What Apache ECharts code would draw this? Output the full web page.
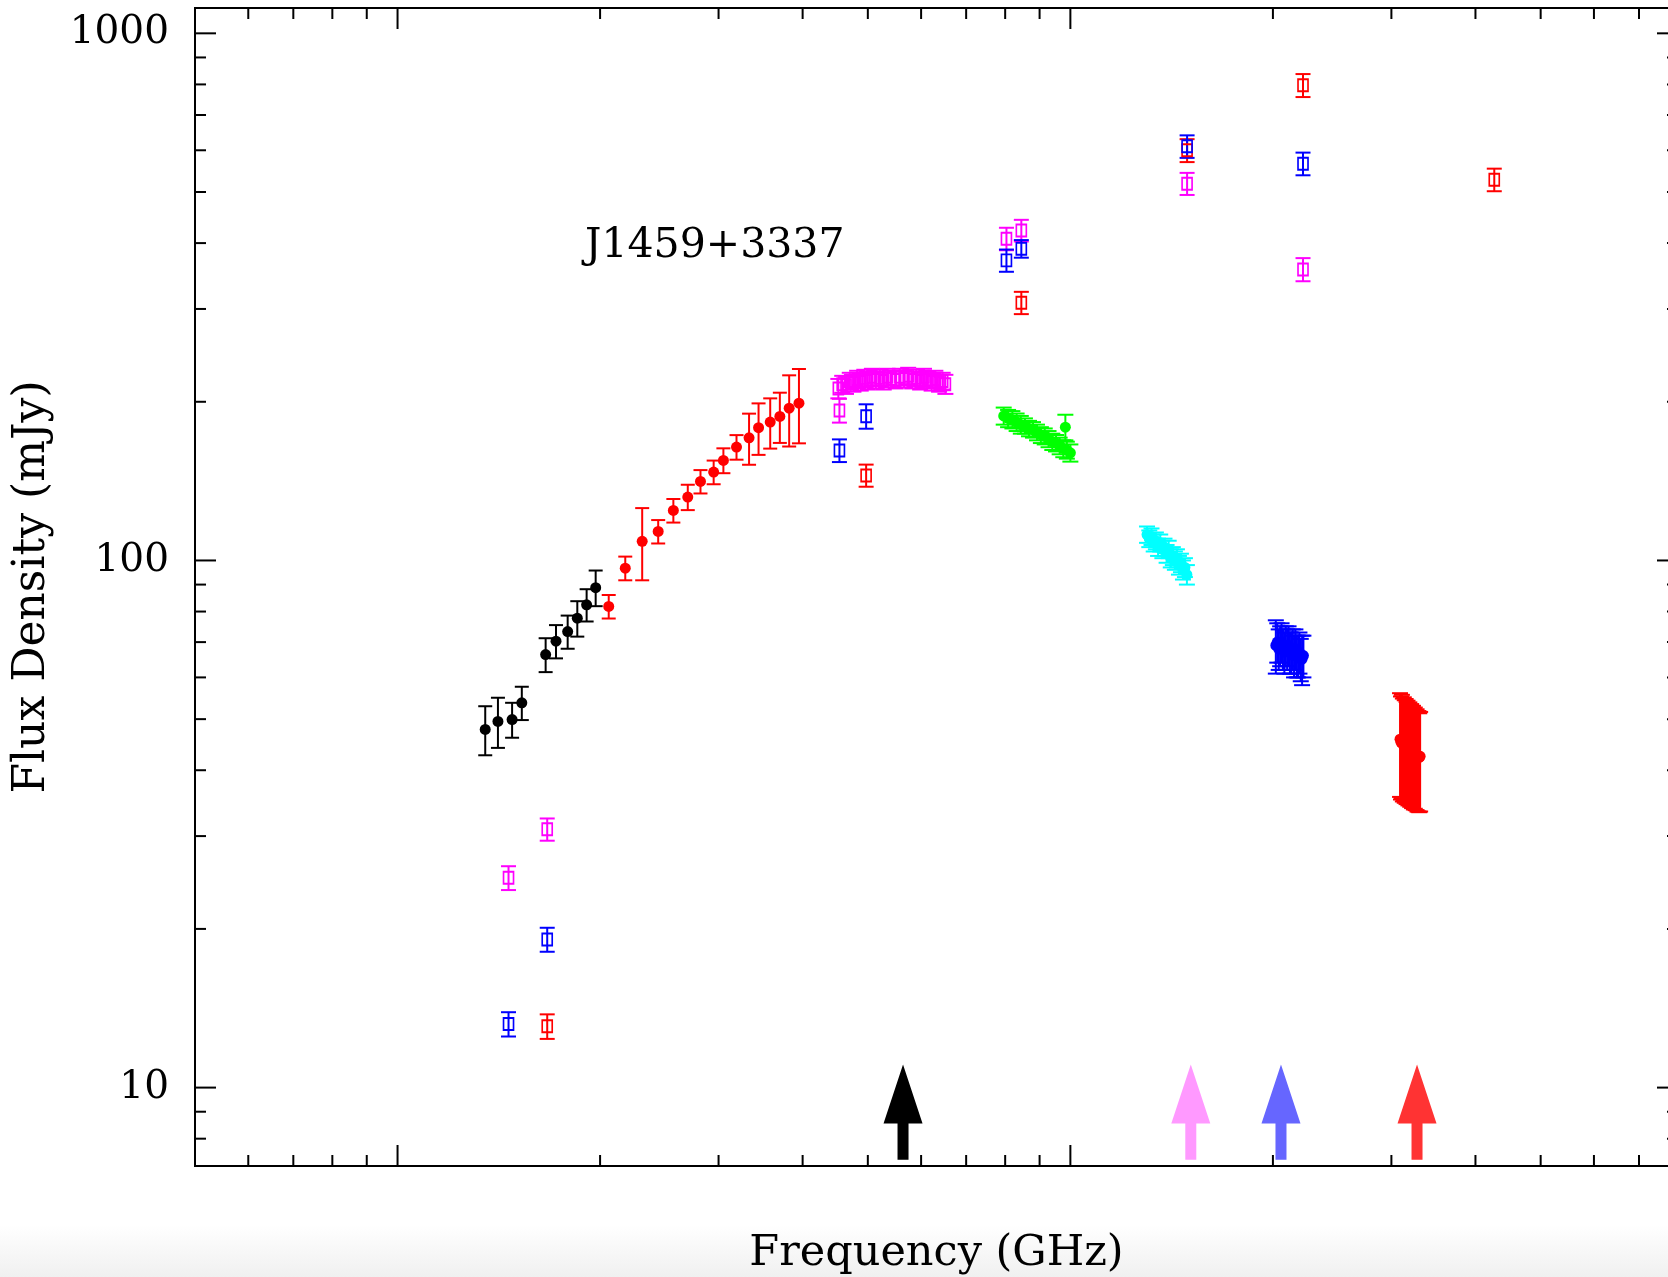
<!DOCTYPE html>
<html><head><meta charset="utf-8">
<script src="https://cdn.jsdelivr.net/npm/echarts@6/dist/echarts.min.js"></script>
<style>html,body{margin:0;padding:0;background:#fff}#c{width:1668px;height:1277px}</style>
</head><body><div id="c"></div>
<script>
// ---------------- data (frequency in GHz, flux density in mJy) ----------------
const blackFreq = [1.35, 1.41, 1.48, 1.53, 1.66, 1.72, 1.79, 1.85, 1.91, 1.97];
const blackFlux = [47.8, 49.5, 49.9, 53.7, 66.3, 70.3, 73.3, 77.7, 82.4, 88.8];
const blackErr  = [5.1, 5.4, 3.8, 3.9, 4.9, 5.1, 5.3, 6.0, 5.8, 6.9];

const redFreq = [2.06, 2.18, 2.31, 2.44, 2.57, 2.70, 2.82, 2.95, 3.05, 3.19, 3.33, 3.44, 3.58, 3.70, 3.82, 3.95];
const redFlux = [81.8, 96.7, 108.7, 113.5, 124.4, 131.9, 141.2, 147.1, 154.8, 164.1, 170.9, 178.6, 183.0, 187.6, 194.5, 198.8];
const redErr  = [4.2, 5.0, 17, 5.8, 6.4, 7.3, 7.2, 7.6, 8.4, 8.8, 19, 20, 20, 20.5, 30, 32];

const cBandFreq = [4.52, 4.58, 4.64, 4.70, 4.76, 4.82, 4.88, 4.94, 5.00, 5.07, 5.14, 5.21, 5.28, 5.35, 5.42, 5.50, 5.58, 5.66, 5.74, 5.82, 5.90, 5.98, 6.06, 6.14, 6.22, 6.30, 6.38, 6.46, 6.52];
const cBandFlux = [212, 216, 215, 219, 217, 221, 218, 222, 219, 223, 220, 222, 219, 223, 221, 220, 223, 221, 224, 220, 222, 219, 223, 220, 218, 221, 217, 219, 216];
const cBandErr  = [9, 8, 8, 8, 8, 8, 8, 8, 8, 8, 8, 8, 8, 8, 8, 8, 8, 8, 8, 8, 8, 8, 8, 8, 8, 8, 8, 8, 9];

const xBandFreq = [7.96, 8.08, 8.20, 8.32, 8.44, 8.56, 8.68, 8.80, 8.92, 9.04, 9.16, 9.28, 9.40, 9.52, 9.64, 9.76, 9.83, 9.88, 10.0];
const xBandFlux = [188, 186, 185, 183, 181, 180, 178, 177, 175, 173, 172, 170, 168, 167, 165, 163, 179, 162, 160];
const xBandErr  = [7, 7, 7, 7, 7, 6, 6, 6, 6, 6, 6, 6, 6, 6, 6, 6, 10, 6, 6];

const kuFreq = [13.0, 13.1, 13.2, 13.3, 13.4, 13.5, 13.6, 13.7, 13.8, 13.9, 14.0, 14.1, 14.2, 14.3, 14.4, 14.5, 14.6, 14.7, 14.8, 14.9];
const kuFlux = [112, 110, 111, 108, 109, 106, 108, 105, 106, 103, 105, 101, 102, 100, 101, 98, 99, 96, 97, 94];
const kuErr  = [4, 4, 4, 4, 4, 4, 4, 4, 4, 4, 4, 4, 4, 4, 4, 4, 4, 4, 4, 4];

const kFreq = [20.2, 20.3, 20.4, 20.5, 20.6, 20.7, 20.8, 20.9, 21.0, 21.1, 21.2, 21.3, 21.4, 21.5, 21.6, 21.7, 21.8, 21.9, 22.0, 22.1, 22.2];
const kFlux = [69, 70, 68, 69, 70, 68, 67, 69, 68, 69, 67, 67, 68, 66, 68, 66, 66, 67, 65, 65, 66];
const kErr  = [8, 6, 6, 6, 6, 6, 6, 6, 6, 6, 6, 6, 6, 6, 6, 6, 6, 6, 6, 7, 6];

const kaFreq = [30.9, 31.0, 31.1, 31.2, 31.3, 31.4, 31.5, 31.6, 31.7, 31.8, 31.9, 32.0, 32.1, 32.2, 32.3, 32.4, 32.5, 32.6, 32.7, 32.8, 32.9, 33.0, 33.1];
const kaFlux = [45.8, 45.2, 45.5, 44.8, 45.0, 44.5, 44.7, 44.2, 44.4, 43.9, 44.1, 43.6, 43.8, 43.3, 43.5, 43.0, 43.2, 42.8, 42.9, 42.5, 42.6, 42.3, 42.5];
const kaErr  = [10.2, 10.0, 10.1, 9.9, 10.0, 9.8, 9.9, 9.7, 9.8, 9.6, 9.7, 9.5, 9.6, 9.4, 9.5, 9.3, 9.4, 9.2, 9.3, 9.1, 9.2, 9.0, 9.1];

// open squares (other epochs / surveys)
const magSqFreq = [1.462, 1.669, 4.537, 8.035, 8.455, 14.91, 22.17];
const magSqFlux = [25.0, 30.9, 192.6, 407.7, 422.8, 518.6, 356.6];
const magSqErr  = [1.3, 1.5, 10, 20, 20, 25, 18];

const blueSqFreq = [1.462, 1.669, 4.537, 4.971, 8.035, 8.455, 14.91, 22.17];
const blueSqFlux = [13.2, 19.1, 161.7, 187.8, 370.9, 390.3, 610.4, 565.9];
const blueSqErr  = [0.7, 1.0, 8, 10, 18, 15, 30, 28];

const redSqFreq = [1.669, 4.971, 8.455, 14.91, 22.17, 42.66];
const redSqFlux = [13.07, 145.0, 308.3, 599.8, 797, 527.7];
const redSqErr  = [0.7, 7, 15, 30, 40, 26];

// arrows marking frequencies
const arrowFreq   = [5.64, 15.1, 20.56, 32.75];
const arrowColors = ['#000000', '#ff99ff', '#6666ff', '#ff3333'];
const arrowTip = 11.06;     // flux level of arrow tip
const arrowBottom = 7.3;    // flux level of arrow tail

// axis ticks
const xMajorTicks = [1, 10];
const xMinorTicks = [0.6, 0.7, 0.8, 0.9, 2, 3, 4, 5, 6, 7, 8, 9, 20, 30, 40, 50, 60, 70];
const yMajorTicks = [10, 100, 1000];
const yMinorTicks = [8, 9, 20, 30, 40, 50, 60, 70, 80, 90, 200, 300, 400, 500, 600, 700, 800, 900];
const yTickLabels = ['10', '100', '1000'];

const sourceName = 'J1459+3337';

// ---------------- chart ----------------
const SERIF = '"DejaVu Serif", "Liberation Serif", serif';
const chart = echarts.init(document.getElementById('c'), null, {renderer: 'canvas'});

function errSeries(freq, flux, err, color, capW) {
  return {
    type: 'custom', coordinateSystem: 'cartesian2d', silent: true, animation: false, z: 2,
    data: freq.map((f, i) => [f, flux[i], err[i]]),
    encode: {x: 0, y: 1},
    renderItem: (params, api) => {
      const f = api.value(0), v = api.value(1), e = api.value(2);
      const t = api.coord([f, v + e]), b = api.coord([f, v - e]);
      const h = capW / 2;
      const st = {stroke: color, lineWidth: 2};
      return {type: 'group', children: [
        {type: 'line', shape: {x1: t[0], y1: t[1], x2: b[0], y2: b[1]}, style: st},
        {type: 'line', shape: {x1: t[0] - h, y1: t[1], x2: t[0] + h, y2: t[1]}, style: st},
        {type: 'line', shape: {x1: b[0] - h, y1: b[1], x2: b[0] + h, y2: b[1]}, style: st}
      ]};
    }
  };
}
function markSeries(freq, flux, color, filled) {
  return {
    type: 'scatter', silent: true, animation: false, z: 3,
    data: freq.map((f, i) => [f, flux[i]]),
    symbol: filled ? 'circle' : 'rect',
    symbolSize: filled ? 11 : [10, 12],
    itemStyle: filled ? {color: color, opacity: 1}
                      : {color: 'rgba(0,0,0,0)', borderColor: color, borderWidth: 1.8, opacity: 1}
  };
}
function group(freq, flux, err, color, filled, capW) {
  return [errSeries(freq, flux, err, color, capW), markSeries(freq, flux, color, filled)];
}

const tickData = [];
xMajorTicks.forEach(v => tickData.push([v, 100, 1, 0]));
xMinorTicks.forEach(v => tickData.push([v, 100, 0, 0]));
yMajorTicks.forEach(v => tickData.push([1, v, 1, 1]));
yMinorTicks.forEach(v => tickData.push([1, v, 0, 1]));

const tickSeries = {
  type: 'custom', coordinateSystem: 'cartesian2d', silent: true, animation: false, z: 5,
  data: tickData, encode: {x: 0, y: 1}, clip: false,
  renderItem: (params, api) => {
    const cs = params.coordSys;
    const major = api.value(2) === 1, isY = api.value(3) === 1;
    const len = major ? 21 : 11;
    const st = {stroke: '#000', lineWidth: 2};
    if (!isY) {
      const px = api.coord([api.value(0), 100])[0];
      const yb = cs.y + cs.height, yt = cs.y;
      return {type: 'group', children: [
        {type: 'line', shape: {x1: px, y1: yb, x2: px, y2: yb - len}, style: st},
        {type: 'line', shape: {x1: px, y1: yt, x2: px, y2: yt + len}, style: st}
      ]};
    } else {
      const py = api.coord([1, api.value(1)])[1];
      const xl = cs.x, xr = cs.x + cs.width;
      return {type: 'group', children: [
        {type: 'line', shape: {x1: xl, y1: py, x2: xl + len, y2: py}, style: st},
        {type: 'line', shape: {x1: xr, y1: py, x2: xr - len, y2: py}, style: st}
      ]};
    }
  }
};

const arrowSeries = {
  type: 'custom', coordinateSystem: 'cartesian2d', silent: true, animation: false, z: 6,
  data: arrowFreq.map((f, i) => [f, arrowTip, arrowBottom, i]), encode: {x: 0, y: 1},
  renderItem: (params, api) => {
    const f = api.value(0);
    const t = api.coord([f, api.value(1)]), b = api.coord([f, api.value(2)]);
    const x = t[0], hw = 19.5, sw = 5.5, hl = 59;
    const yb = t[1] + hl;
    return {type: 'polygon', shape: {points: [
      [x, t[1]], [x + hw, yb], [x + sw, yb], [x + sw, b[1]], [x - sw, b[1]], [x - sw, yb], [x - hw, yb]
    ]}, style: {fill: arrowColors[api.value(3)]}};
  }
};

const option = {
  backgroundColor: '#ffffff',
  animation: false,
  grid: {left: 195, top: 8, width: 1483, height: 1158, show: true, borderColor: '#000', borderWidth: 2,
         backgroundColor: 'transparent', containLabel: false, outerBoundsMode: 'none'},
  xAxis: {
    type: 'log', logBase: 10, min: 0.5, max: 80,
    name: 'Frequency (GHz)', nameLocation: 'middle', nameGap: 66,
    nameTextStyle: {fontFamily: SERIF, fontSize: 43, color: '#000'},
    axisLine: {show: false}, axisTick: {show: false}, axisLabel: {show: false}, splitLine: {show: false}
  },
  yAxis: {
    type: 'log', logBase: 10, min: 7.1, max: 1117,
    name: 'Flux Density (mJy)', nameLocation: 'middle', nameGap: 140, nameRotate: 90,
    nameTextStyle: {fontFamily: SERIF, fontSize: 44, color: '#000'},
    axisLine: {show: false}, axisTick: {show: false}, splitLine: {show: false},
    axisLabel: {
      show: true, margin: 26, fontFamily: SERIF, fontSize: 39, color: '#000',
      showMinLabel: false, showMaxLabel: false,
      formatter: (v) => {
        const r = Math.round(v);
        return (Math.abs(v - r) < 1e-6 && yTickLabels.indexOf(String(r)) >= 0) ? String(r) : '';
      }
    }
  },
  graphic: [
    {type: 'rect', left: 0, top: 1225, shape: {width: 1668, height: 52}, z: -10, silent: true,
     style: {fill: new echarts.graphic.LinearGradient(0, 0, 0, 1, [
       {offset: 0, color: 'rgba(240,240,240,0)'}, {offset: 1, color: 'rgba(240,240,240,1)'}])}},
    {type: 'text', left: 585, top: 226, z: 10, silent: true,
     style: {text: sourceName, font: '41px ' + SERIF, fill: '#000'}}
  ],
  series: [
    ...group(blackFreq, blackFlux, blackErr, '#000000', true, 14),
    ...group(redFreq, redFlux, redErr, '#ff0000', true, 14),
    ...group(cBandFreq, cBandFlux, cBandErr, '#ff00ff', false, 16),
    ...group(xBandFreq, xBandFlux, xBandErr, '#00ff00', true, 16),
    ...group(kuFreq, kuFlux, kuErr, '#00ffff', true, 16),
    ...group(kFreq, kFlux, kErr, '#0000ff', true, 16),
    ...group(kaFreq, kaFlux, kaErr, '#ff0000', true, 16),
    ...group(redSqFreq, redSqFlux, redSqErr, '#ff0000', false, 15),
    ...group(magSqFreq, magSqFlux, magSqErr, '#ff00ff', false, 15),
    ...group(blueSqFreq, blueSqFlux, blueSqErr, '#0000ff', false, 15),
    tickSeries,
    arrowSeries
  ]
};
chart.setOption(option);
</script>
</body></html>
